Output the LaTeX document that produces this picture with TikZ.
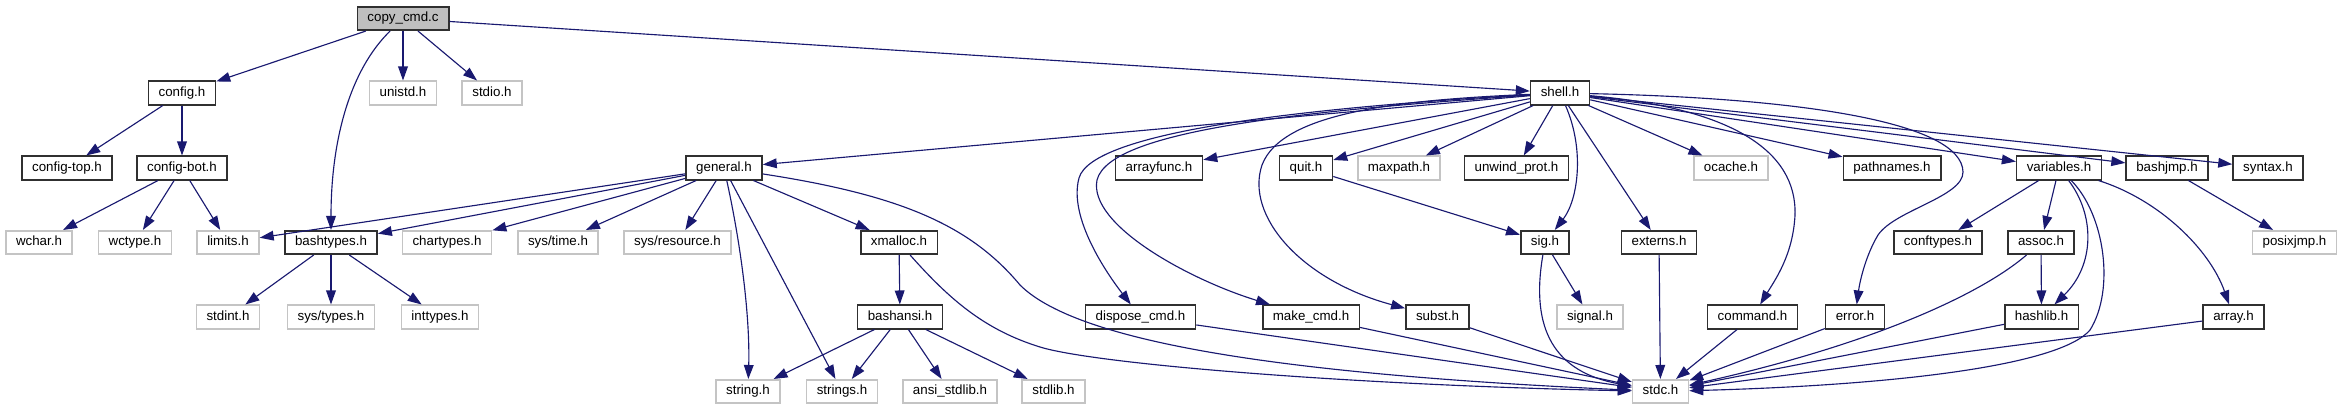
\documentclass[tikz,border=0pt]{standalone}
\usepackage{fontspec}
\setmainfont{Liberation Sans}
\usetikzlibrary{arrows.meta}
\definecolor{EdgeNavy}{HTML}{191970}
\definecolor{RootGray}{HTML}{BFBFBF}
\definecolor{FrameGray}{HTML}{C4C4C4}
\definecolor{FrameDark}{HTML}{303030}
\tikzset{
  incfile/.style={draw=FrameDark, line width=1.2pt, fill=white, inner xsep=7.6pt, inner ysep=0pt,
                  minimum height=17.6pt, text height=7.3pt, text depth=2.1pt,
                  font=\fontsize{10}{12}\selectfont},
  sysfile/.style={incfile, draw=FrameGray},
  rootfile/.style={incfile, fill=RootGray},
  dep/.style={draw=EdgeNavy, line width=0.85pt, -{Triangle[length=10.5pt,width=7.3pt]}}
}
\begin{document}
\begin{tikzpicture}[x=0.75pt, y=-0.75pt]
  \useasboundingbox (0,0) rectangle (2343,411);

  \node[rootfile] (copycmd) at (403,18.5) {copy\_cmd.c};

  \node[incfile] (configh)  at (182,93)  {config.h};
  \node[sysfile] (unistd)   at (403,93)  {unistd.h};
  \node[sysfile] (stdioh)   at (492,93)  {stdio.h};
  \node[incfile] (shellh)   at (1560,93) {shell.h};

  \node[incfile] (configtop) at (67,168)    {config-top.h};
  \node[incfile] (configbot) at (182,168)   {config-bot.h};
  \node[incfile] (generalh)  at (724,168)   {general.h};
  \node[incfile] (arrayfunc) at (1159,168)  {arrayfunc.h};
  \node[incfile] (quith)     at (1306,168)  {quit.h};
  \node[sysfile] (maxpath)   at (1399,168)  {maxpath.h};
  \node[incfile] (unwind)    at (1516.5,168){unwind\_prot.h};
  \node[sysfile] (ocache)    at (1731,168)  {ocache.h};
  \node[incfile] (pathnames) at (1892,168)  {pathnames.h};
  \node[incfile] (variables) at (2059,168)  {variables.h};
  \node[incfile] (bashjmp)   at (2167,168)  {bashjmp.h};
  \node[incfile] (syntaxh)   at (2268,168)  {syntax.h};

  \node[sysfile] (wcharh)    at (39,242.5)    {wchar.h};
  \node[sysfile] (wctype)    at (135,242.5)   {wctype.h};
  \node[sysfile] (limitsh)   at (228,242.5)   {limits.h};
  \node[incfile] (bashtypes) at (331,242.5)   {bashtypes.h};
  \node[sysfile] (chartypes) at (447,242.5)   {chartypes.h};
  \node[sysfile] (systime)   at (558,242.5)   {sys/time.h};
  \node[sysfile] (sysres)    at (677.5,242.5) {sys/resource.h};
  \node[incfile] (xmalloc)   at (899,242.5)   {xmalloc.h};
  \node[incfile] (sigh)      at (1545,242.5)  {sig.h};
  \node[incfile] (externs)   at (1659,242.5)  {externs.h};
  \node[incfile] (conftypes) at (1938,242.5)  {conftypes.h};
  \node[incfile] (assoch)    at (2041,242.5)  {assoc.h};
  \node[sysfile] (posixjmp)  at (2294.5,242.5){posixjmp.h};

  \node[sysfile] (stdint)    at (228,317)    {stdint.h};
  \node[sysfile] (systypes)  at (331,317)    {sys/types.h};
  \node[sysfile] (inttypes)  at (440,317)    {inttypes.h};
  \node[incfile] (bashansi)  at (900,317)    {bashansi.h};
  \node[incfile] (dispose)   at (1140.5,317) {dispose\_cmd.h};
  \node[incfile] (makecmd)   at (1311,317)   {make\_cmd.h};
  \node[incfile] (substh)    at (1437.5,317) {subst.h};
  \node[sysfile] (signalh)   at (1590,317)   {signal.h};
  \node[incfile] (command)   at (1752.5,317) {command.h};
  \node[incfile] (errorh)    at (1855,317)   {error.h};
  \node[incfile] (hashlib)   at (2041.5,317) {hashlib.h};
  \node[incfile] (arrayh)    at (2233.5,317) {array.h};

  \node[sysfile] (stringh)   at (748,391.5)    {string.h};
  \node[sysfile] (strings)   at (842,391.5)    {strings.h};
  \node[sysfile] (ansistd)   at (950,391.5)    {ansi\_stdlib.h};
  \node[sysfile] (stdlibh)   at (1053.5,391.5) {stdlib.h};
  \node[sysfile] (stdch)     at (1660.5,391.5) {stdc.h};

  \draw[dep] (copycmd) -- (configh);
  \draw[dep] (copycmd) .. controls (350,70) and (331,140) .. (bashtypes);
  \draw[dep] (copycmd) -- (unistd);
  \draw[dep] (copycmd) -- (stdioh);
  \draw[dep] (copycmd) -- (shellh);

  \draw[dep] (configh) -- (configtop);
  \draw[dep] (configh) -- (configbot);
  \draw[dep] (configbot) -- (wcharh);
  \draw[dep] (configbot) -- (wctype);
  \draw[dep] (configbot) -- (limitsh);
  \draw[dep] (bashtypes) -- (stdint);
  \draw[dep] (bashtypes) -- (systypes);
  \draw[dep] (bashtypes) -- (inttypes);

  \draw[dep] (generalh) -- (limitsh);
  \draw[dep] (generalh) -- (bashtypes);
  \draw[dep] (generalh) -- (chartypes);
  \draw[dep] (generalh) -- (systime);
  \draw[dep] (generalh) -- (sysres);
  \draw[dep] (generalh) -- (xmalloc);
  \draw[dep] (generalh) -- (strings);
  \draw[dep] (generalh) .. controls (742,250) and (750,320) .. (stringh);
  \draw[dep] (generalh) .. controls (900,195) and (970,225) .. (1020,285)
                        .. controls (1080,345) and (1300,375) .. (stdch);
  \draw[dep] (xmalloc) -- (bashansi);
  \draw[dep] (xmalloc) .. controls (950,300) and (985,330) .. (1040,347)
                       .. controls (1095,364) and (1350,385) .. (stdch);
  \draw[dep] (bashansi) -- (stringh);
  \draw[dep] (bashansi) -- (strings);
  \draw[dep] (bashansi) -- (ansistd);
  \draw[dep] (bashansi) -- (stdlibh);

  \draw[dep] (shellh) -- (generalh);
  \draw[dep] (shellh) -- (arrayfunc);
  \draw[dep] (shellh) -- (quith);
  \draw[dep] (shellh) -- (maxpath);
  \draw[dep] (shellh) -- (unwind);
  \draw[dep] (shellh) -- (externs);
  \draw[dep] (shellh) -- (ocache);
  \draw[dep] (shellh) -- (pathnames);
  \draw[dep] (shellh) -- (variables);
  \draw[dep] (shellh) -- (bashjmp);
  \draw[dep] (shellh) -- (syntaxh);
  \draw[dep] (shellh) .. controls (1300,108) and (1092,132) .. (1079,178)
                      .. controls (1068,218) and (1108,275) .. (dispose);
  \draw[dep] (shellh) .. controls (1320,110) and (1110,128) .. (1097,180)
                      .. controls (1088,225) and (1190,280) .. (makecmd);
  \draw[dep] (shellh) .. controls (1400,100) and (1282,112) .. (1262,165)
                      .. controls (1245,215) and (1300,280) .. (substh);
  \draw[dep] (shellh) .. controls (1585,150) and (1578,200) .. (sigh);
  \draw[dep] (shellh) .. controls (1730,108) and (1797,150) .. (1795,215)
                      .. controls (1793,255) and (1775,280) .. (command);
  \draw[dep] (shellh) .. controls (1800,98) and (1962,122) .. (1963,172)
                      .. controls (1963,197) and (1895,210) .. (1878,235)
                      .. controls (1866,255) and (1860,280) .. (errorh);

  \draw[dep] (quith) -- (sigh);
  \draw[dep] (sigh) -- (signalh);
  \draw[dep] (sigh) .. controls (1530,330) and (1555,372) .. (stdch);
  \draw[dep] (externs) -- (stdch);
  \draw[dep] (dispose) -- (stdch);
  \draw[dep] (makecmd) -- (stdch);
  \draw[dep] (substh) -- (stdch);
  \draw[dep] (command) -- (stdch);
  \draw[dep] (errorh) -- (stdch);

  \draw[dep] (variables) -- (conftypes);
  \draw[dep] (variables) -- (assoch);
  \draw[dep] (variables) .. controls (2095,215) and (2095,265) .. (hashlib);
  \draw[dep] (variables) .. controls (2105,215) and (2115,290) .. (2090,330)
                         .. controls (2060,365) and (1900,385) .. (stdch);
  \draw[dep] (variables) .. controls (2160,200) and (2210,250) .. (arrayh);
  \draw[dep] (assoch) -- (hashlib);
  \draw[dep] (assoch) .. controls (1980,295) and (1870,345) .. (stdch);
  \draw[dep] (hashlib) -- (stdch);
  \draw[dep] (arrayh) -- (stdch);
  \draw[dep] (bashjmp) -- (posixjmp);
\end{tikzpicture}
\end{document}
